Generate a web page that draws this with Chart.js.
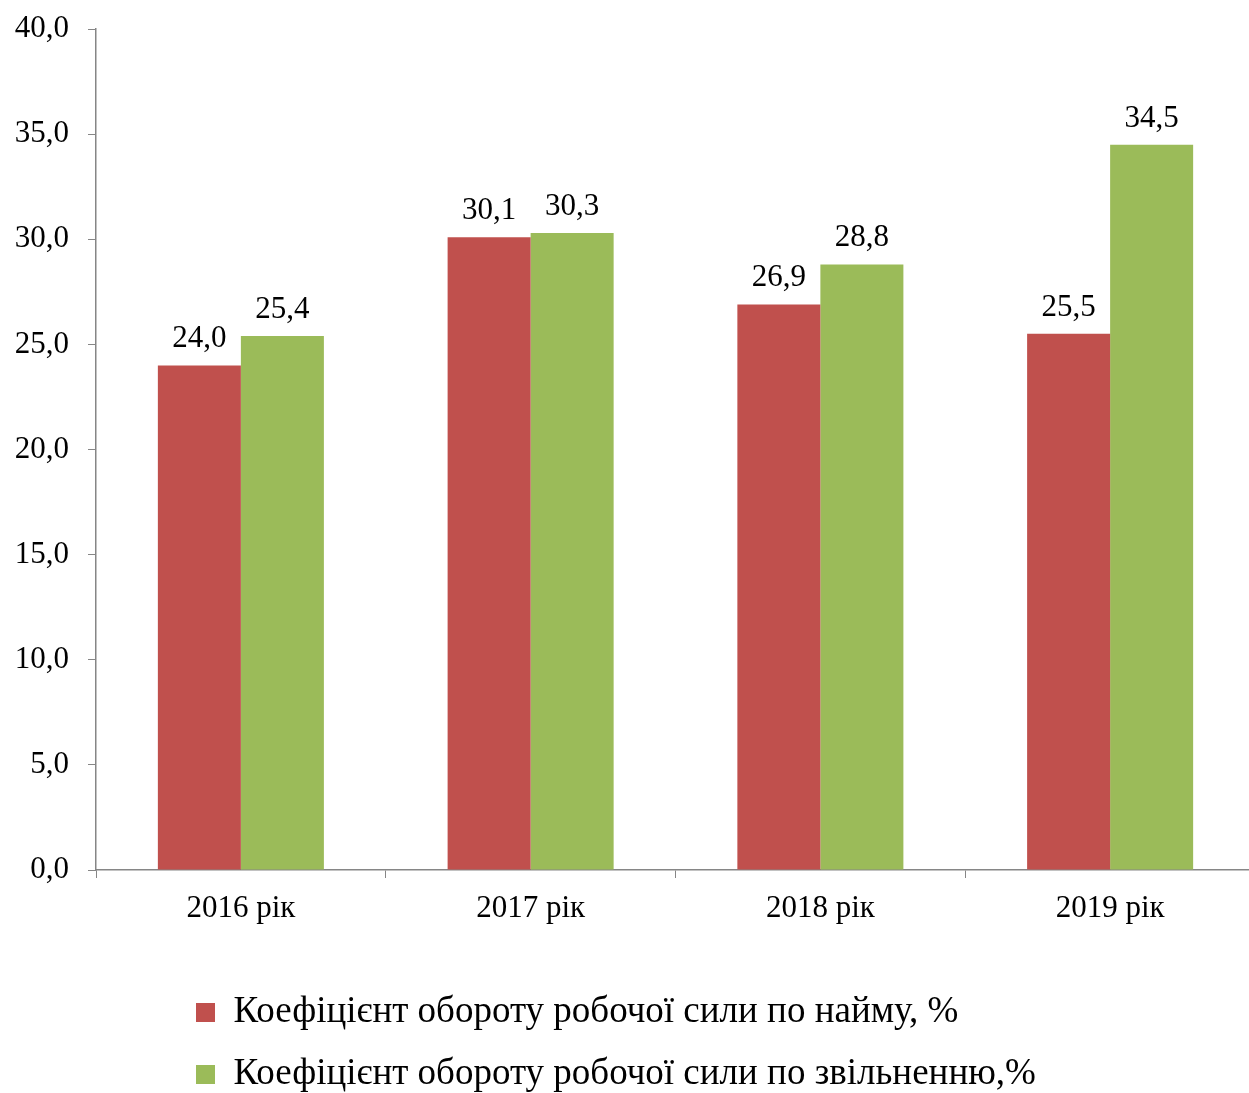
<!DOCTYPE html>
<html>
<head>
<meta charset="utf-8">
<script src="https://cdn.jsdelivr.net/npm/chart.js@4"></script>
<style>
  body { margin: 0; background: #fff; overflow: hidden; }
  /* the original plot runs a few pixels past the right edge */
  #wrap { width: 1255px; height: 1093px; }
</style>
</head>
<body>
<div id="wrap"><canvas id="chart"></canvas></div>
<script>
const categories = ['2016 рік', '2017 рік', '2018 рік', '2019 рік'];
const hireRate = [24.0, 30.1, 26.9, 25.5];
const dismissRate = [25.4, 30.3, 28.8, 34.5];
const seriesNames = [
    'Коефіцієнт обороту робочої сили по найму, %',
    'Коефіцієнт обороту робочої сили по звільненню,%'
];

const FONT = "'Liberation Serif', 'Times New Roman', serif";
const AXIS = '#868686';

function fmt(v) {
    return Number(v).toFixed(1).replace('.', ',');
}

// values above bars
const barLabels = {
    id: 'barLabels',
    afterDatasetsDraw(chart) {
        const ctx = chart.ctx;
        ctx.save();
        ctx.font = '31px ' + FONT;
        ctx.fillStyle = '#000';
        ctx.textAlign = 'center';
        ctx.textBaseline = 'alphabetic';
        chart.data.datasets.forEach((ds, i) => {
            chart.getDatasetMeta(i).data.forEach((bar, j) => {
                ctx.fillText(fmt(ds.data[j]), bar.x, bar.y - 18);
            });
        });
        ctx.restore();
    }
};

// legend rows start at the same x, like the original
const legendShift = {
    id: 'legendShift',
    afterLayout(chart) {
        if (chart.legend) {
            chart.legend.left = 171;
        }
    }
};

new Chart(document.getElementById('chart'), {
    type: 'bar',
    data: {
        labels: categories,
        datasets: [
            { label: seriesNames[0], data: hireRate, backgroundColor: '#C0504D' },
            { label: seriesNames[1], data: dismissRate, backgroundColor: '#9BBB59' }
        ]
    },
    options: {
        responsive: true,
        maintainAspectRatio: false,
        animation: false,
        layout: { padding: { top: 29, left: 0, right: 0, bottom: -10 } },
        datasets: {
            bar: { categoryPercentage: 0.573, barPercentage: 1.0 }
        },
        scales: {
            x: {
                grid: { drawOnChartArea: false, drawTicks: true, tickLength: 8, color: AXIS },
                border: { display: true, color: AXIS, width: 1.5 },
                ticks: { color: '#000', padding: 12, font: { family: FONT, size: 31 } },
                afterFit(s) {
                    s.height = 60;
                    s.paddingLeft = 0;
                    s.paddingRight = 0;
                }
            },
            y: {
                min: 0,
                max: 40,
                grid: { drawOnChartArea: false, drawTicks: true, tickLength: 8, color: AXIS },
                border: { display: true, color: AXIS, width: 1.5 },
                ticks: {
                    stepSize: 5,
                    color: '#000',
                    padding: 19,
                    font: { family: FONT, size: 31 },
                    callback: v => fmt(v)
                },
                afterFit(s) {
                    s.width = 96;
                    s.paddingTop = 0;
                    s.paddingBottom = 0;
                }
            }
        },
        plugins: {
            tooltip: { enabled: false },
            legend: {
                position: 'bottom',
                align: 'start',
                title: { display: true, text: '', font: { size: 10, lineHeight: 1 }, padding: { top: 29, bottom: 0 } },
                labels: {
                    color: '#000',
                    boxWidth: 19,
                    boxHeight: 19,
                    padding: 25,
                    font: { family: FONT, size: 37 }
                }
            }
        }
    },
    plugins: [barLabels, legendShift]
});
</script>
</body>
</html>
